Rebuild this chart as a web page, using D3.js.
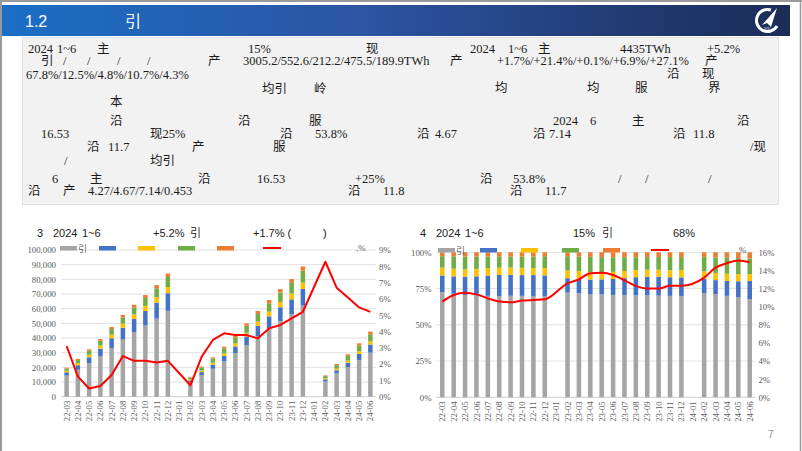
<!DOCTYPE html>
<html><head><meta charset="utf-8">
<script src="https://cdn.jsdelivr.net/npm/d3@7"></script>
<style>
html,body{margin:0;padding:0;background:#fff;}
svg{display:block;}
</style></head>
<body>
<svg id="c" width="802" height="451"></svg>
<script>
// ---------------- data ----------------
const months = ["22-03","22-04","22-05","22-06","22-07","22-08","22-09","22-10","22-11","22-12","23-01",
  "23-02","23-03","23-04","23-05","23-06","23-07","23-08","23-09","23-10","23-11","23-12","24-01",
  "24-02","24-03","24-04","24-05","24-06"];
const seriesGray   = [14360,18380,22770,27630,33250,38930,43940,48500,53190,58550,null,9750,14700,19030,24180,29650,35200,41060,46320,51450,56130,62070,null,10430,15880,20230,25080,30050];
const seriesBlue   = [2280,3060,4100,5150,6600,8080,9030,9910,10960,12000,null,1340,2070,2730,3550,4620,5900,7300,8440,9540,10270,11370,null,1420,2140,2950,4040,5530];
const seriesYellow = [1070,1360,1680,2040,2470,2790,3140,3470,3730,4200,null,720,1070,1370,1710,2060,2450,2860,3230,3600,3930,4350,null,740,1090,1450,1780,2120];
const seriesGreen  = [1560,2180,2810,3300,3750,4230,4770,5410,6010,6880,null,1330,2070,2840,3540,4240,4750,5200,5670,6390,7220,8080,null,1450,2390,3180,4040,4760];
const seriesOrange = [530,720,940,1180,1430,1670,1820,2010,2210,2270,null,360,590,830,1120,1430,1700,1980,2240,2420,2650,2930,null,460,800,1090,1460,1900];
const growthPct    = [3.11,1.23,0.5,0.66,1.33,2.49,2.2,2.2,2.1,2.2,null,0.7,2.45,3.48,3.89,3.78,3.78,3.58,4.19,4.4,4.81,5.21,null,8.28,6.69,6.09,5.48,5.2];
const sharePct     = [10.56,11.29,11.55,11.36,10.92,10.56,10.48,10.67,10.74,10.81,null,12.58,13.02,13.68,13.75,13.5,12.9,12.3,12.0,12.0,12.3,12.3,null,13.2,14.3,14.8,15.1,14.9];
const seriesKeys   = ["gray","blue","yellow","green","orange"];
const seriesColors = ["#a5a5a5","#4472c4","#ffc000","#70ad47","#ed7d31"];
const leftTicks1   = [0,10000,20000,30000,40000,50000,60000,70000,80000,90000,100000];
const rightTicks1  = [0,1,2,3,4,5,6,7,8,9];
const leftTicks2   = [0,0.25,0.5,0.75,1];
const rightTicks2  = [0,2,4,6,8,10,12,14,16];

const rows = months.map((m,i)=>({month:m, gray:seriesGray[i]||0, blue:seriesBlue[i]||0,
  yellow:seriesYellow[i]||0, green:seriesGreen[i]||0, orange:seriesOrange[i]||0}));

const svg = d3.select("#c");
const SERIF = "'Liberation Serif','Noto Sans CJK SC',serif";
const SANS = "'Liberation Sans','Noto Sans CJK SC',sans-serif";

// ---------------- slide frame & header ----------------
const defs = svg.append("defs");
const g1 = defs.append("linearGradient").attr("id","hdr").attr("x1","0").attr("x2","1").attr("y1","0").attr("y2","0");
g1.append("stop").attr("offset","0").attr("stop-color","#1a6fc6");
g1.append("stop").attr("offset","0.45").attr("stop-color","#2c55a3");
g1.append("stop").attr("offset","1").attr("stop-color","#1b2c57");

svg.append("rect").attr("x",0).attr("y",5).attr("width",790).attr("height",31).attr("fill","url(#hdr)");
svg.append("line").attr("x1",0).attr("x2",802).attr("y1",1).attr("y2",1).attr("stroke","#9a9a9a").attr("stroke-width",2);
svg.append("line").attr("x1",1).attr("x2",1).attr("y1",0).attr("y2",451).attr("stroke","#9a9a9a").attr("stroke-width",2);
svg.append("line").attr("x1",800.5).attr("x2",800.5).attr("y1",0).attr("y2",451).attr("stroke","#9a9a9a").attr("stroke-width",1.5);
svg.append("text").attr("x",25).attr("y",27).attr("fill","#fff").attr("font-family",SANS).attr("font-size",16).text("1.2");
svg.append("text").attr("x",125).attr("y",27).attr("fill","#fff").attr("font-family","'Noto Sans CJK SC'").attr("font-size",16).text("引");
// logo
const lg = svg.append("g").attr("transform","translate(767,21)");
lg.append("path").attr("d","M4,-11 A11,11 0 1 0 10,5").attr("fill","none").attr("stroke","#fff").attr("stroke-width",3);
lg.append("path").attr("d","M-5,4 L10,-13 L4,6 L0,2 Z").attr("fill","#fff");
lg.append("text").attr("x",0).attr("y",9).attr("text-anchor","middle").attr("font-size",3).attr("fill","#fff").text("AVIC");

// ---------------- text box ----------------
svg.append("rect").attr("x",22.5).attr("y",37.5).attr("width",756).attr("height",167).attr("fill","#f2f2f2").attr("stroke","#e2e2e2");
const para = [
 [28,53,"2024"],[57,53,"1~6"],[97,53,"主"],[248,53,"15%"],[366,53,"现"],[470,53,"2024"],[508,53,"1~6"],[538,53,"主"],[620,53,"4435TWh"],[707,53,"+5.2%"],
 [41,65,"引"],[63,65,"/"],[87,65,"/"],[117,65,"/"],[147,65,"/"],[208,65,"产"],[243,65,"3005.2/552.6/212.2/475.5/189.9TWh"],[450,65,"产"],[497,65,"+1.7%/+21.4%/+0.1%/+6.9%/+27.1%"],[705,65,"产"],
 [26,79,"67.8%/12.5%/4.8%/10.7%/4.3%"],[667,78,"沿"],[702,78,"现"],
 [262,93,"均引"],[314,93,"岭"],[495,92,"均"],[587,92,"均"],[635,92,"服"],[708,92,"界"],
 [110,106,"本"],
 [110,125,"沿"],[238,125,"沿"],[309,125,"服"],[553,125,"2024"],[590,125,"6"],[632,125,"主"],[737,125,"沿"],
 [41,138,"16.53"],[150,138,"现25%"],[280,138,"沿"],[315,138,"53.8%"],[417,138,"沿"],[435,138,"4.67"],[533,138,"沿"],[549,138,"7.14"],[673,138,"沿"],[693,138,"11.8"],
 [87,151,"沿"],[108,151,"11.7"],[192,151,"产"],[273,151,"服"],[750,151,"/现"],
 [64,165,"/"],[150,165,"均引"],
 [52,183,"6"],[90,183,"主"],[198,183,"沿"],[257,183,"16.53"],[355,183,"+25%"],[480,183,"沿"],[513,183,"53.8%"],[618,183,"/"],[645,183,"/"],[708,183,"/"],
 [28,195,"沿"],[63,195,"产"],[88,195,"4.27/4.67/7.14/0.453"],[348,195,"沿"],[383,195,"11.8"],[510,195,"沿"],[545,195,"11.7"]
];
svg.append("g").selectAll("text").data(para).join("text")
  .attr("x",d=>d[0]).attr("y",d=>d[1]).attr("font-family",SERIF).attr("font-size",12.5).attr("fill","#1a1a1a").text(d=>d[2]);

svg.append("text").attr("x",768).attr("y",438).attr("font-family",SANS).attr("font-size",10).attr("fill","#8c8c8c").text("7");

// ---------------- chart helper ----------------
function drawChart(o){
  const g = svg.append("g");
  const x = d3.scaleBand().domain(months).range(o.xr).paddingInner(0.6).paddingOuter(0.3);
  const yL = d3.scaleLinear().domain(o.yLdom).range(o.yr);
  const yR = d3.scaleLinear().domain(o.yRdom).range(o.yr);
  // gridlines
  g.append("g").selectAll("line").data(o.leftTicks).join("line")
    .attr("x1",o.xr[0]).attr("x2",o.xr[1]).attr("y1",d=>yL(d)).attr("y2",d=>yL(d))
    .attr("stroke",(d,i)=>i===0?"#bfbfbf":"#d9d9d9").attr("stroke-width",0.8);
  // axes
  const axL = d3.axisLeft(yL).tickValues(o.leftTicks).tickFormat(o.fmtL).tickSize(0).tickPadding(0);
  const gl = g.append("g").attr("transform",`translate(${o.xr[0]-5},0)`).call(axL);
  const axR = d3.axisRight(yR).tickValues(o.rightTicks).tickFormat(d=>d+"%").tickSize(0).tickPadding(0);
  const gr = g.append("g").attr("transform",`translate(${o.xr[1]+3},0)`).call(axR);
  const axB = d3.axisBottom(x).tickSize(0).tickPadding(0);
  const gb = g.append("g").attr("transform",`translate(0,${o.yr[0]})`).call(axB);
  [gl,gr,gb].forEach(a=>{a.select(".domain").remove();
    a.attr("color","#595959");
    a.selectAll("text").attr("font-family",SERIF).attr("font-size",8.8).style("fill","#595959");});
  gb.selectAll("text").attr("text-anchor","end").attr("dy","0.35em")
    .attr("transform","translate(0,4) rotate(-90)").attr("y",0).attr("x",0);
  // stacked bars
  const stack = d3.stack().keys(seriesKeys).offset(o.offset);
  const layers = stack(rows);
  g.append("g").selectAll("g").data(layers).join("g").attr("fill",(d,i)=>seriesColors[i])
    .selectAll("rect").data(d=>d.filter(p=>p[1]-p[0]>0)).join("rect")
    .attr("x",d=>x(d.data.month)).attr("width",x.bandwidth())
    .attr("y",d=>yL(d[1])).attr("height",d=>yL(d[0])-yL(d[1]));
  // line
  const pts = months.map((m,i)=>({m, v:o.lineVals[i]})).filter(d=>d.v!=null);
  g.append("path").datum(pts).attr("fill","none").attr("stroke","#ff0000").attr("stroke-width",2)
    .attr("stroke-linejoin","round")
    .attr("d",d3.line().x(d=>x(d.m)+x.bandwidth()/2).y(d=>yR(d.v)).curve(o.curve));
  // legend
  const lgd = g.append("g");
  o.legendX.forEach((lx,i)=>{
    lgd.append("rect").attr("x",lx).attr("y",o.legY-2).attr("width",17).attr("height",4.5).attr("fill",seriesColors[i]);
  });
  lgd.append("text").attr("x",o.legendX[0]+18).attr("y",o.legY+3.5).attr("font-family","'Noto Sans CJK SC'").attr("font-size",9).attr("fill","#595959").text("引");
  lgd.append("line").attr("x1",o.lineLegX).attr("x2",o.lineLegX+18).attr("y1",o.legY).attr("y2",o.legY).attr("stroke","#ff0000").attr("stroke-width",2);
  g.append("text").attr("x",o.unitX).attr("y",o.legY+3).attr("font-family",SERIF).attr("font-size",8.8).attr("fill","#595959").text(o.unit);
  // title
  g.append("g").selectAll("text").data(o.title).join("text")
    .attr("x",d=>d[0]).attr("y",237).attr("font-family",SANS).attr("font-size",11).attr("fill","#1a1a1a").text(d=>d[1]);
}

drawChart({
  xr:[61,376], yr:[396.7,250], yLdom:[0,100000], yRdom:[0,9],
  leftTicks:leftTicks1, rightTicks:rightTicks1, fmtL:d3.format(","),
  offset:d3.stackOffsetNone, lineVals:growthPct, curve:d3.curveLinear,
  legendX:[60,99,138,178,217], lineLegX:263, legY:248, unitX:356, unit:",%",
  title:[[37,"3"],[53,"2024"],[82,"1~6"],[153,"+5.2%"],[190,"引"],[253,"+1.7% ("],[323,")"]]
});
drawChart({
  xr:[436.6,755.4], yr:[397.3,252.3], yLdom:[0,1], yRdom:[0,16],
  leftTicks:leftTicks2, rightTicks:rightTicks2, fmtL:d3.format(".0%"),
  offset:d3.stackOffsetExpand, lineVals:sharePct, curve:d3.curveMonotoneX,
  legendX:[438,480,521,562,603], lineLegX:651, legY:250, unitX:739, unit:"%",
  title:[[420,"4"],[436,"2024"],[465,"1~6"],[573,"15%"],[602,"引"],[673,"68%"]]
});
</script>
</body></html>
